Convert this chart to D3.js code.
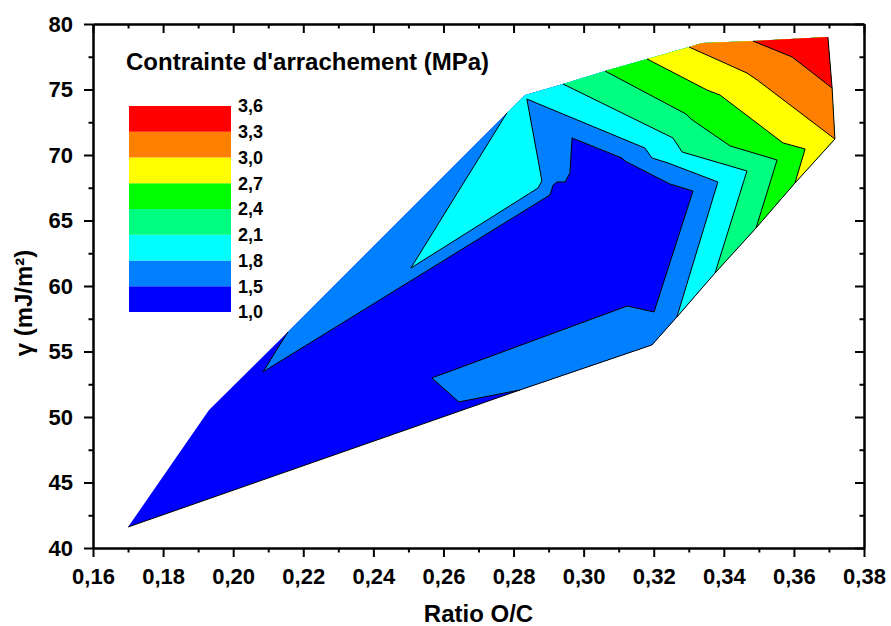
<!DOCTYPE html>
<html>
<head>
<meta charset="utf-8">
<script src="https://cdn.jsdelivr.net/npm/d3@7"></script>
<style>
body { margin: 0; background: #fff; }
text { font-family: "Liberation Sans", Arial, sans-serif; font-weight: bold; fill: #000; }
</style>
</head>
<body>
<svg id="chart" width="891" height="626"></svg>
<script>
// outer boundary of the measured domain [Ratio O/C, gamma]
var hull = [[0.1700,41.60],[0.1931,50.53],[0.2156,56.49],[0.2781,73.21],[0.2833,74.58],
  [0.2941,75.42],[0.3061,76.41],[0.3181,77.33],[0.3301,78.24],[0.3338,78.55],[0.3483,78.70],[0.3697,79.01],
  [0.3709,75.11],[0.3717,71.22],
  [0.3603,67.86],[0.3492,64.43],[0.3375,60.99],[0.3266,57.63],[0.3195,55.50],[0.2818,52.06]];

// contour lines, each one starts and ends on a hull vertex
var line15 = [[0.2156,56.49],[0.2085,53.44],[0.2904,66.95],[0.2913,67.71],[0.2924,67.94],[0.2947,67.94],
  [0.2961,68.63],[0.2967,71.30],[0.3109,69.77],[0.3118,69.54],[0.3246,67.79],[0.3312,67.25],
  [0.3201,58.02],[0.3124,58.47],[0.2567,52.98],[0.2644,51.15],[0.2818,52.06]];
var line18 = [[0.2781,73.21],[0.2507,61.37],[0.2870,67.48],[0.2881,68.02],[0.2838,74.27],[0.3175,70.53],
  [0.3195,69.77],[0.3241,69.39],[0.3383,67.94],[0.3266,57.63]];
var line21 = [[0.2941,75.42],[0.3255,71.30],[0.3281,70.23],[0.3466,68.78],[0.3375,60.99]];
var line24 = [[0.3061,76.41],[0.3292,73.13],[0.3306,72.75],[0.3418,70.69],[0.3552,69.62],[0.3492,64.43]];
var line27 = [[0.3181,77.33],[0.3352,74.96],[0.3389,74.58],[0.3569,70.92],[0.3632,70.46],[0.3603,67.86]];
var line30 = [[0.3301,78.24],[0.3466,76.26],[0.3495,75.73],[0.3717,71.22]];
var line33 = [[0.3483,78.70],[0.3595,77.48],[0.3709,75.11]];

var levelLabels = ["1,0","1,5","1,8","2,1","2,4","2,7","3,0","3,3","3,6"];
var colors = ["#0000ff","#0080ff","#00ffff","#00ff80","#00ff00","#ffff00","#ff8000","#ff0000"];

var xTicks = [0.16,0.18,0.20,0.22,0.24,0.26,0.28,0.30,0.32,0.34,0.36,0.38];
var xMinor = [0.17,0.19,0.21,0.23,0.25,0.27,0.29,0.31,0.33,0.35,0.37];
var yTicks = [40,45,50,55,60,65,70,75,80];
var yMinor = [42.5,47.5,52.5,57.5,62.5,67.5,72.5,77.5];

var pLeft = 93, pRight = 864, pTop = 24, pBottom = 548;

var svg = d3.select("#chart");

var x = d3.scaleLinear().domain([0.16, 0.38]).range([pLeft, pRight]);
var y = d3.scaleLinear().domain([40, 80]).range([pBottom, pTop]);

var line = d3.line().x(function(d) { return x(d[0]); }).y(function(d) { return y(d[1]); });

function same(p, q) { return p[0] === q[0] && p[1] === q[1]; }

// band = hull part between the two ends of the contour line, closed by the line itself
function band(cl) {
    var a = hull.findIndex(function(p) { return same(p, cl[0]); });
    var b = hull.findIndex(function(p) { return same(p, cl[cl.length - 1]); });
    return hull.slice(a, b + 1).concat(cl.slice(1, -1).reverse());
}

var contours = [line15, line18, line21, line24, line27, line30, line33];

var plot = svg.append("g");

plot.append("path")
    .attr("d", line(hull) + "Z")
    .attr("fill", colors[0]);

contours.forEach(function(cl, i) {
    plot.append("path")
        .attr("d", line(band(cl)) + "Z")
        .attr("fill", colors[i + 1]);
});

contours.forEach(function(cl) {
    plot.append("path")
        .attr("d", line(cl))
        .attr("fill", "none")
        .attr("stroke", "#000")
        .attr("stroke-width", 1);
});

// the lower and right sides of the domain carry a black outline
plot.append("path")
    .attr("d", line(hull.slice(11).concat([hull[0]])))
    .attr("fill", "none")
    .attr("stroke", "#000")
    .attr("stroke-width", 1);

// axes
var fmtX = function(d) { return d3.format(".2f")(d).replace(".", ","); };

function style(g) {
    g.attr("font-family", null).attr("font-size", null);
    g.select(".domain").attr("stroke-width", 2);
    g.selectAll(".tick line").attr("stroke-width", 2);
    g.selectAll(".tick text").style("font-size", "22px");
}

svg.append("g").attr("transform", "translate(0," + pBottom + ")")
    .call(d3.axisBottom(x).tickValues(xMinor).tickSize(4.5).tickSizeOuter(0).tickFormat(""))
    .call(style);
svg.append("g").attr("transform", "translate(0," + pBottom + ")")
    .call(d3.axisBottom(x).tickValues(xTicks).tickSize(9).tickPadding(11).tickSizeOuter(0).tickFormat(fmtX))
    .call(style);

svg.append("g").attr("transform", "translate(" + pLeft + ",0)")
    .call(d3.axisLeft(y).tickValues(yMinor).tickSize(4.5).tickSizeOuter(0).tickFormat(""))
    .call(style);
svg.append("g").attr("transform", "translate(" + pLeft + ",0)")
    .call(d3.axisLeft(y).tickValues(yTicks).tickSize(9).tickPadding(11).tickSizeOuter(0))
    .call(style);

svg.append("g").attr("transform", "translate(0," + pTop + ")")
    .call(d3.axisTop(x).tickValues(xMinor).tickSize(-4.5).tickSizeOuter(0).tickFormat(""))
    .call(style);
svg.append("g").attr("transform", "translate(0," + pTop + ")")
    .call(d3.axisTop(x).tickValues(xTicks).tickSize(-9).tickSizeOuter(0).tickFormat(""))
    .call(style);

svg.append("g").attr("transform", "translate(" + pRight + ",0)")
    .call(d3.axisRight(y).tickValues(yMinor).tickSize(-4.5).tickSizeOuter(0).tickFormat(""))
    .call(style);
svg.append("g").attr("transform", "translate(" + pRight + ",0)")
    .call(d3.axisRight(y).tickValues(yTicks).tickSize(-9).tickSizeOuter(0).tickFormat(""))
    .call(style);

// axis titles
svg.append("text")
    .attr("x", (pLeft + pRight) / 2).attr("y", 622)
    .attr("text-anchor", "middle")
    .style("font-size", "24px")
    .text("Ratio O/C");

svg.append("text")
    .attr("transform", "translate(32,303) rotate(-90)")
    .attr("text-anchor", "middle")
    .style("font-size", "24px")
    .text("\u03b3 (mJ/m\u00b2)");

// legend
svg.append("text")
    .attr("x", 126).attr("y", 70)
    .style("font-size", "24px")
    .text("Contrainte d'arrachement (MPa)");

var ly = d3.scaleLinear().domain([0, 8]).range([312, 106]);

svg.append("g").selectAll("rect")
    .data(colors)
    .enter().append("rect")
    .attr("x", 129)
    .attr("width", 102)
    .attr("y", function(d, i) { return ly(i + 1); })
    .attr("height", function(d, i) { return ly(i) - ly(i + 1); })
    .attr("fill", function(d) { return d; });

svg.append("g").selectAll("text")
    .data(levelLabels)
    .enter().append("text")
    .attr("x", 238)
    .attr("y", function(d, i) { return ly(i); })
    .attr("dy", "0.35em")
    .style("font-size", "18px")
    .text(function(d) { return d; });
</script>
</body>
</html>
